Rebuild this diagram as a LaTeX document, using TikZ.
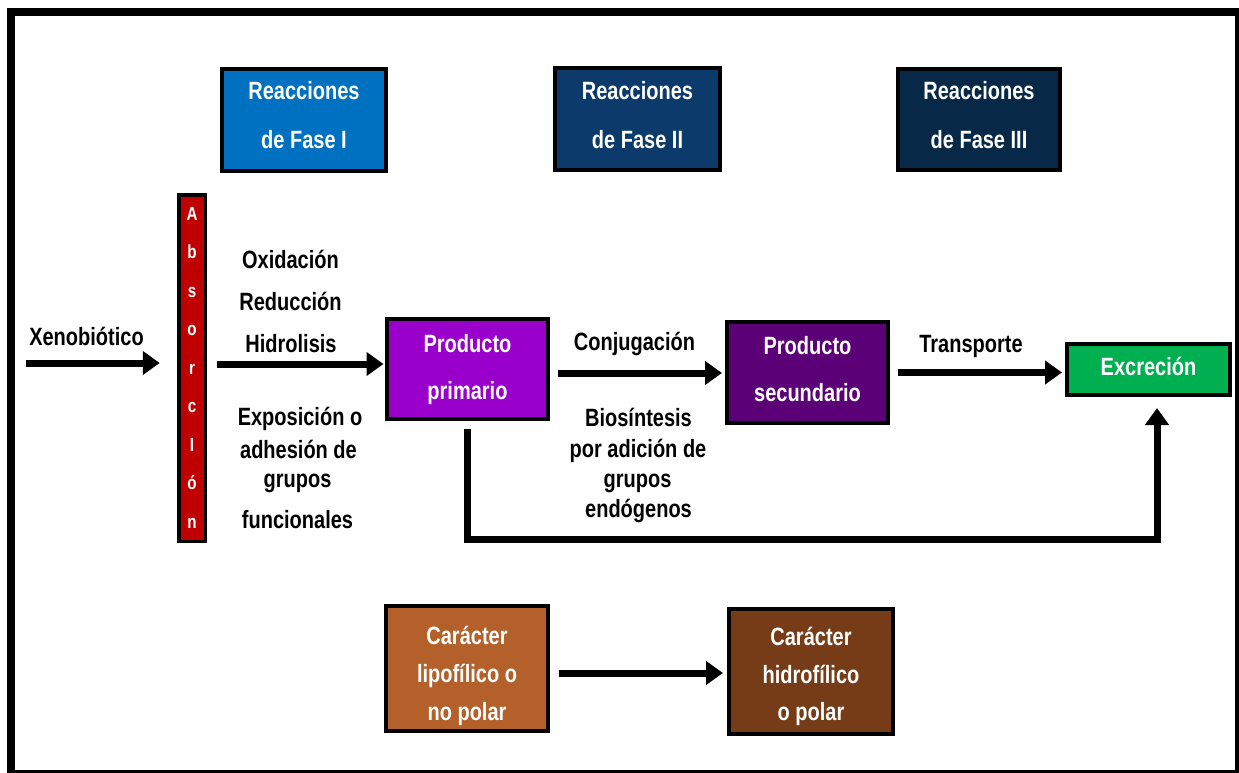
\documentclass[tikz,border=0pt]{standalone}
\usepackage{fontspec}
\setmainfont{Liberation Sans}[FakeStretch=0.8]
\usetikzlibrary{arrows.meta}
\definecolor{faseA}{HTML}{0070C0}
\definecolor{faseB}{HTML}{0B3A6B}
\definecolor{faseC}{HTML}{082848}
\definecolor{absred}{HTML}{C00000}
\definecolor{primc}{HTML}{9900CC}
\definecolor{secc}{HTML}{5C0078}
\definecolor{excc}{HTML}{00B050}
\definecolor{lipc}{HTML}{B4602A}
\definecolor{hidc}{HTML}{763C18}
\begin{document}
\begin{tikzpicture}[x=1pt,y=-1pt,
  box/.style={draw=black,line width=4pt,inner sep=0pt,outer sep=0pt},
  wtext/.style={text=white,font=\fontsize{25}{30}\selectfont\bfseries,anchor=base,inner sep=0pt},
  btext/.style={text=black,font=\fontsize{25}{30}\selectfont\bfseries,anchor=base,inner sep=0pt},
  lettertext/.style={text=white,font=\fontsize{19}{22}\selectfont\bfseries,anchor=base,inner sep=0pt},
  bigarrow/.style={line width=7pt,-{Triangle[length=17pt,width=23pt]}},
]
\useasboundingbox (0,0) rectangle (1239,773);
\fill[white] (0,0) rectangle (1239,773);
\draw[line width=8pt] (11,12) rectangle (1239,774);

% top phase boxes
\node[box,fill=faseA,minimum width=164pt,minimum height=102pt] (fase1) at (304,120) {};
\node[box,fill=faseB,minimum width=165pt,minimum height=102pt] (fase2) at (637.5,119) {};
\node[box,fill=faseC,minimum width=162pt,minimum height=101pt] (fase3) at (979,119.5) {};
\node[wtext] (f1a) at (304,100) {Reacciones};
\node[wtext] (f1b) at (304,148) {de Fase I};
\node[wtext] (f2a) at (637.5,100) {Reacciones};
\node[wtext] (f2b) at (637.5,148) {de Fase II};
\node[wtext] (f3a) at (979,100) {Reacciones};
\node[wtext] (f3b) at (979,148) {de Fase III};

% absorcion bar
\node[box,line width=3.5pt,fill=absred,minimum width=26.5pt,minimum height=346.5pt] (absorb) at (192,368) {};
\foreach \ch [count=\i from 0] in {A,b,s,o,r,c,I,ó,n}
  \node[lettertext] (abs\i) at (192,{220+38.5*\i}) {\ch};

% main flow boxes
\node[box,fill=primc,minimum width=161pt,minimum height=100pt] (prim) at (467.5,369) {};
\node[wtext] (prima) at (467.5,352) {Producto};
\node[wtext] (primb) at (467.5,399) {primario};

\node[box,fill=secc,minimum width=161pt,minimum height=101pt] (sec) at (807.5,372.5) {};
\node[wtext] (seca) at (807.5,354) {Producto};
\node[wtext] (secb) at (807.5,401) {secundario};

\node[box,fill=excc,minimum width=163pt,minimum height=51pt] (excr) at (1148.5,369.5) {};
\node[wtext] (excra) at (1148.5,375) {Excreción};

% bottom boxes
\node[box,fill=lipc,minimum width=162pt,minimum height=125pt] (lip) at (467,668.5) {};
\node[wtext] (lipa) at (467,644) {Carácter};
\node[wtext] (lipb) at (467,682) {lipofílico o};
\node[wtext] (lipc) at (467,720) {no polar};

\node[box,fill=hidc,minimum width=164pt,minimum height=125pt] (hid) at (811,671.5) {};
\node[wtext] (hida) at (811,645) {Carácter};
\node[wtext] (hidb) at (811,683) {hidrofílico};
\node[wtext] (hidc) at (811,720) {o polar};

% black labels
\node[btext] (xeno) at (86.5,345) {Xenobiótico};
\node[btext] (ox) at (290.5,268) {Oxidación};
\node[btext] (red) at (290.5,310) {Reducción};
\node[btext] (hidr) at (291,352) {Hidrolisis};
\node[btext] (exa) at (300,425) {Exposición o};
\node[btext] (exb) at (298.5,458) {adhesión de};
\node[btext] (exc) at (297.5,487) {grupos};
\node[btext] (exd) at (297.5,528) {funcionales};
\node[btext] (conj) at (634.5,350) {Conjugación};
\node[btext] (bioa) at (638.5,426) {Biosíntesis};
\node[btext] (biob) at (638,457) {por adición de};
\node[btext] (bioc) at (637.5,487) {grupos};
\node[btext] (biod) at (638.5,517) {endógenos};
\node[btext] (trans) at (971,352) {Transporte};

% connectors
\coordinate (x0) at (26,363);
\draw[bigarrow,shorten >=19pt] (x0) -- (x0 -| absorb.west);
\coordinate (a2s) at ([yshift=4pt]absorb.east);
\draw[bigarrow,shorten <=12pt,shorten >=3.5pt] (a2s) -- (a2s -| prim.west);
\coordinate (c1) at ([yshift=-4pt]prim.east);
\draw[bigarrow,shorten <=10pt,shorten >=5pt] (c1) -- (c1 -| sec.west);
\draw[bigarrow,shorten <=10pt,shorten >=5pt] (sec.east) -- (sec.east -| excr.west);
\coordinate (b2) at (1157,539);
\draw[bigarrow,shorten <=10pt,shorten >=13pt] (prim.south) |- (b2) -- (b2 |- excr.south);
\coordinate (l1) at ([yshift=-4.5pt]lip.east);
\draw[bigarrow,shorten <=11pt,shorten >=6pt] (l1) -- (l1 -| hid.west);
\end{tikzpicture}
\end{document}
